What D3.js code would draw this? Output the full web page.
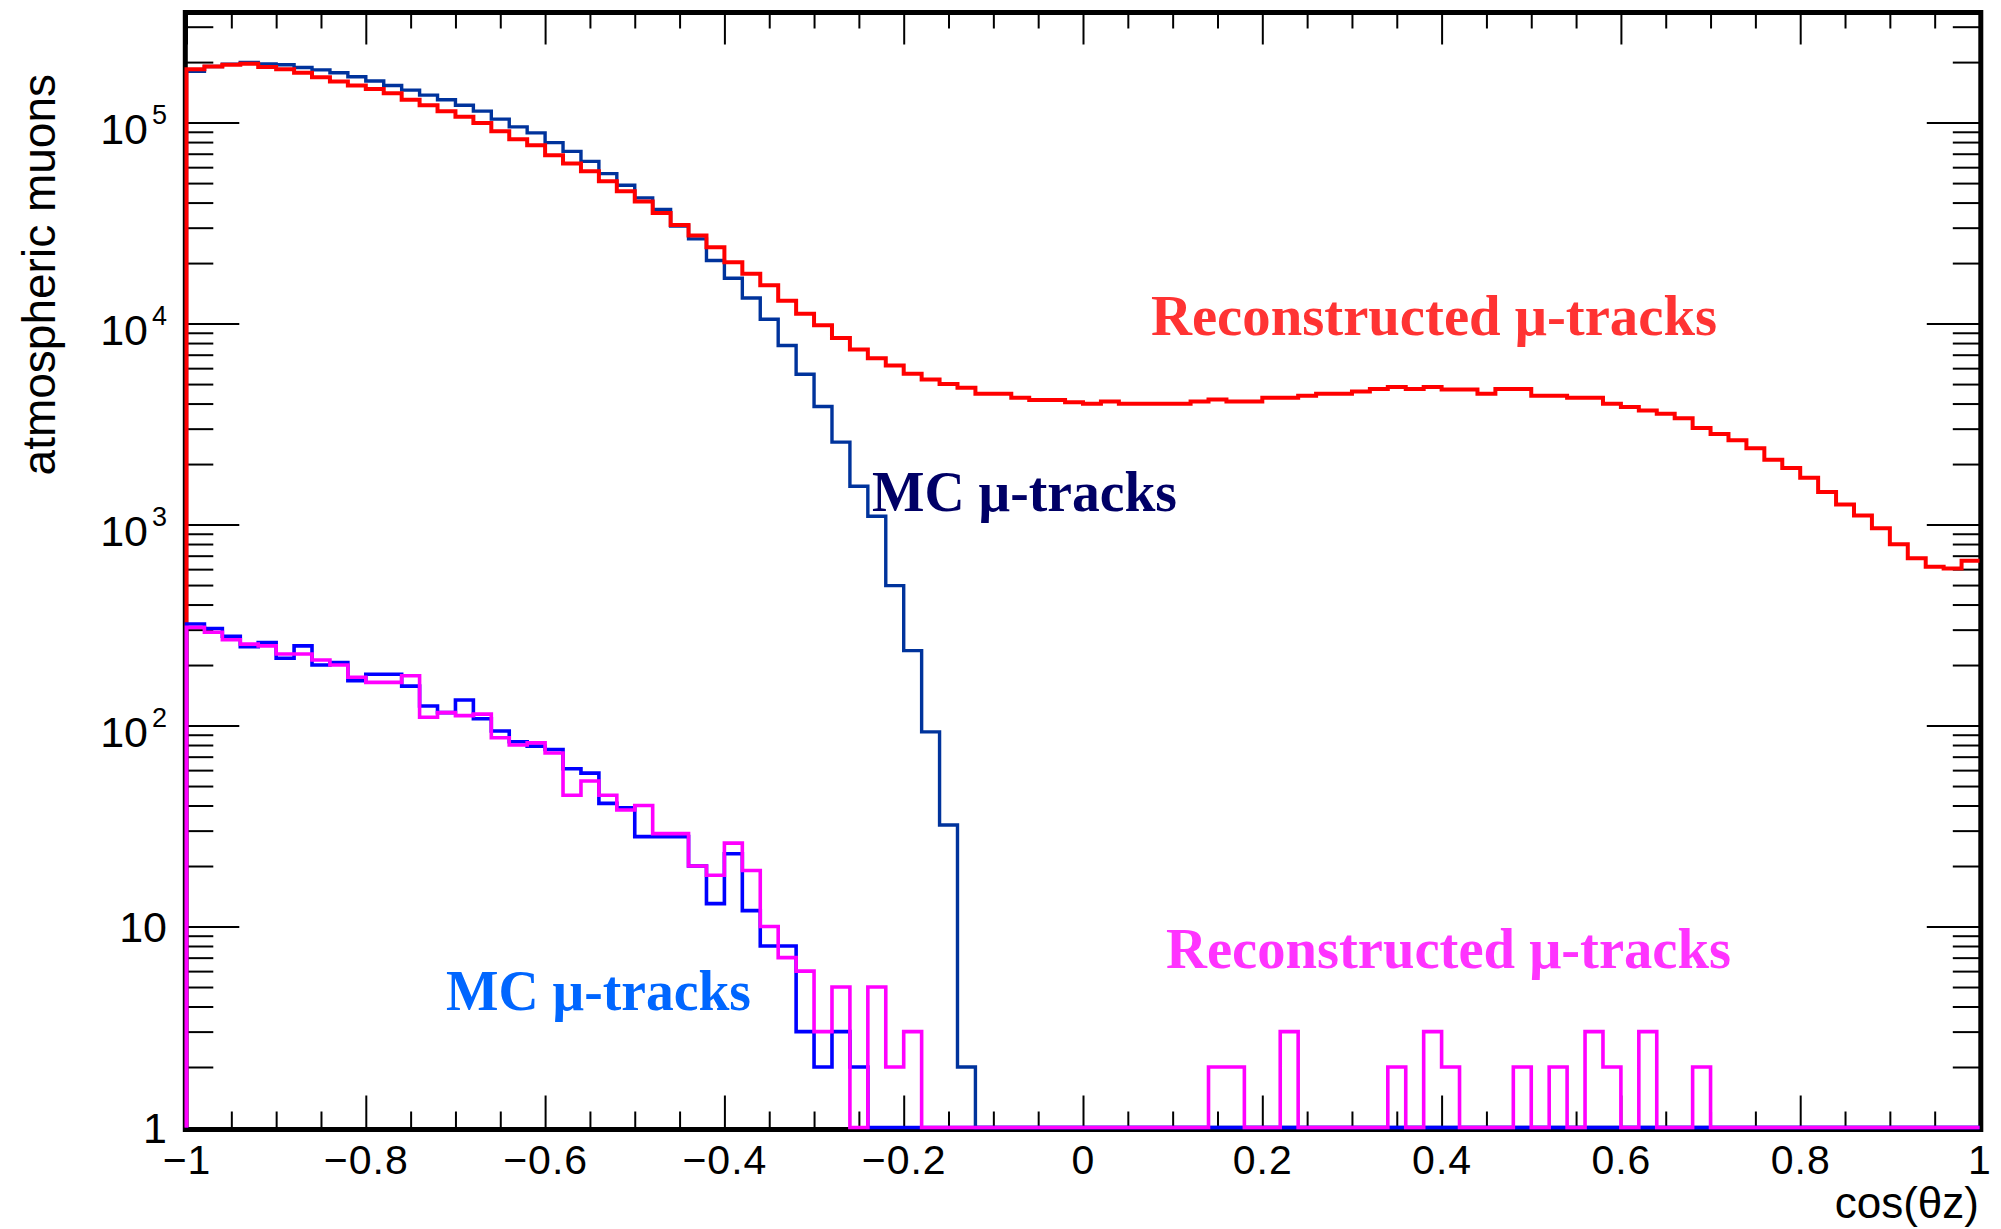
<!DOCTYPE html>
<html>
<head>
<meta charset="utf-8">
<script src="https://cdn.jsdelivr.net/npm/d3@7"></script>
<style>
  html, body { margin: 0; padding: 0; background: #ffffff; }
  svg { display: block; }
</style>
</head>
<body>
<svg id="chart" width="2001" height="1229"></svg>
<script>
// Histogram binning: 100 equal bins in cos(theta_z) from -1 to 1
const binLow = -1;
const binWidth = 0.02;

// Reconstructed muon tracks (high statistics sample)
const recoHigh = [
  1.84e5, 1.90e5, 1.94e5, 1.96e5, 1.89e5, 1.84e5, 1.77e5, 1.68e5, 1.60e5, 1.53e5,
  1.47e5, 1.40e5, 1.30e5, 1.22e5, 1.14e5, 1.07e5, 9.96e4, 9.05e4, 8.26e4, 7.71e4,
  6.87e4, 6.25e4, 5.72e4, 5.10e4, 4.55e4, 4.05e4, 3.55e4, 3.09e4, 2.74e4, 2.40e4,
  2.02e4, 1.77e4, 1.55e4, 1.30e4, 1.12e4, 9800, 8470, 7440, 6730, 6180,
  5620, 5270, 5010, 4790, 4470, 4470, 4270, 4170, 4170, 4060,
  3990, 4090, 3990, 3990, 3990, 3990, 4090, 4190, 4090, 4090,
  4270, 4270, 4380, 4470, 4470, 4590, 4730, 4830, 4730, 4830,
  4700, 4700, 4470, 4730, 4730, 4380, 4380, 4270, 4270, 3990,
  3840, 3690, 3560, 3380, 3020, 2820, 2630, 2400, 2100, 1910,
  1710, 1450, 1260, 1110, 958, 797, 679, 617, 605, 661
];

// Monte Carlo muon tracks (high statistics sample)
const mcHigh = [
  1.80e5, 1.90e5, 1.95e5, 1.99e5, 1.96e5, 1.94e5, 1.88e5, 1.83e5, 1.77e5, 1.69e5,
  1.61e5, 1.53e5, 1.45e5, 1.37e5, 1.30e5, 1.22e5, 1.14e5, 1.04e5, 9.52e4, 8.89e4,
  7.95e4, 7.19e4, 6.41e4, 5.57e4, 4.88e4, 4.22e4, 3.70e4, 3.06e4, 2.64e4, 2.06e4,
  1.68e4, 1.34e4, 1.05e4, 7780, 5600, 3870, 2570, 1550, 1100, 497,
  236, 93, 32, 2, 0, 0, 0, 0, 0, 0,
  0, 0, 0, 0, 0, 0, 0, 0, 0, 0,
  0, 0, 0, 0, 0, 0, 0, 0, 0, 0,
  0, 0, 0, 0, 0, 0, 0, 0, 0, 0,
  0, 0, 0, 0, 0, 0, 0, 0, 0, 0,
  0, 0, 0, 0, 0, 0, 0, 0, 0, 0
];

// Monte Carlo muon tracks (low statistics sample)
const mcLow = [
  320, 304, 278, 247, 259, 216, 249, 200, 206, 167,
  180, 180, 157, 125, 116, 134, 108, 94, 83, 79,
  76, 61, 58, 41, 39, 28, 28, 28, 20, 13,
  23, 12, 8, 8, 3, 2, 3, 2, 0, 0,
  0, 0, 0, 0, 0, 0, 0, 0, 0, 0,
  0, 0, 0, 0, 0, 0, 0, 0, 0, 0,
  0, 0, 0, 0, 0, 0, 0, 0, 0, 0,
  0, 0, 0, 0, 0, 0, 0, 0, 0, 0,
  0, 0, 0, 0, 0, 0, 0, 0, 0, 0,
  0, 0, 0, 0, 0, 0, 0, 0, 0, 0
];

// Reconstructed muon tracks (low statistics sample)
const recoLow = [
  308, 291, 267, 254, 249, 227, 227, 212, 200, 174,
  164, 164, 177, 110, 116, 112, 114, 87, 80, 82,
  73, 45, 53, 45, 38, 40, 29, 29, 20, 18,
  26, 19, 10, 7, 6, 3, 5, 0, 5, 2,
  3, 0, 0, 0, 0, 0, 0, 0, 0, 0,
  0, 0, 0, 0, 0, 0, 0, 2, 2, 0,
  0, 3, 0, 0, 0, 0, 0, 2, 0, 3,
  2, 0, 0, 0, 2, 0, 2, 0, 3, 2,
  0, 3, 0, 0, 2, 0, 0, 0, 0, 0,
  0, 0, 0, 0, 0, 0, 0, 0, 0, 0
];

// Axis tick values and labels
const xTickValues = [-1, -0.8, -0.6, -0.4, -0.2, 0, 0.2, 0.4, 0.6, 0.8, 1];
const xTickLabels = ["\u22121", "\u22120.8", "\u22120.6", "\u22120.4", "\u22120.2", "0", "0.2", "0.4", "0.6", "0.8", "1"];
const yTickValues = [1, 10, 100, 1000, 10000, 100000];
const yTickBase = ["1", "10", "10", "10", "10", "10"];
const yTickExp = ["", "", "2", "3", "4", "5"];
const yMax = 3.53e5;

const xTitle = "cos(\u03B8z)";
const yTitle = "atmospheric muons";

const svg = d3.select("#chart");
const plot = { left: 186.5, right: 1979.5, top: 12.5, bottom: 1127.5 };
const axisFont = "'Liberation Sans', Arial, Helvetica, sans-serif";
const noteFont = "'Liberation Serif', 'Times New Roman', serif";

const x = d3.scaleLinear().domain([-1, 1]).range([plot.left, plot.right]);
const y = d3.scaleLog().domain([1, yMax]).range([plot.bottom, plot.top]);

svg.append("rect").attr("width", 2001).attr("height", 1229).attr("fill", "#ffffff");

// Frame
const frame = { x0: 185.3, x1: 1980.8, y0: 12.5, y1: 1129.5 };
svg.append("rect")
  .attr("x", frame.x0).attr("y", frame.y0)
  .attr("width", frame.x1 - frame.x0).attr("height", frame.y1 - frame.y0)
  .attr("fill", "none").attr("stroke", "#000").attr("stroke-width", 5);

// X ticks (bottom and top, pointing inward)
const xMinor = d3.range(0, 41).map(i => -1 + i * 0.05)
  .filter(v => Math.abs(Math.round(v / 0.2) * 0.2 - v) > 1e-6);

function styleAxis(g) {
  g.select(".domain").remove();
  g.selectAll(".tick line").attr("stroke", "#000").attr("stroke-width", 2);
}

svg.append("g").attr("transform", `translate(0,${frame.y1})`)
  .call(d3.axisBottom(x).tickValues(xTickValues).tickSizeInner(-34).tickSizeOuter(0)
    .tickPadding(15).tickFormat((d, i) => xTickLabels[i]))
  .call(styleAxis)
  .call(g => g.selectAll(".tick text")
    .attr("font-family", axisFont).attr("font-size", 41).attr("fill", "#000")
    .attr("letter-spacing", 1));

svg.append("g").attr("transform", `translate(0,${frame.y1})`)
  .call(d3.axisBottom(x).tickValues(xMinor).tickSizeInner(-18).tickSizeOuter(0).tickFormat(""))
  .call(styleAxis);

svg.append("g").attr("transform", `translate(0,${frame.y0})`)
  .call(d3.axisTop(x).tickValues(xTickValues).tickSizeInner(-32).tickSizeOuter(0).tickFormat(""))
  .call(styleAxis);

svg.append("g").attr("transform", `translate(0,${frame.y0})`)
  .call(d3.axisTop(x).tickValues(xMinor).tickSizeInner(-16).tickSizeOuter(0).tickFormat(""))
  .call(styleAxis);

// Y ticks (left and right, pointing inward)
const yMinor = [];
for (let k = 0; k <= 5; k++) {
  for (let m = 2; m <= 9; m++) {
    const v = m * Math.pow(10, k);
    if (v <= yMax) yMinor.push(v);
  }
}

svg.append("g").attr("transform", `translate(${frame.x0},0)`)
  .call(d3.axisLeft(y).tickValues(yTickValues).tickSizeInner(-54).tickSizeOuter(0).tickFormat(""))
  .call(styleAxis);
svg.append("g").attr("transform", `translate(${frame.x0},0)`)
  .call(d3.axisLeft(y).tickValues(yMinor).tickSizeInner(-28).tickSizeOuter(0).tickFormat(""))
  .call(styleAxis);
svg.append("g").attr("transform", `translate(${frame.x1},0)`)
  .call(d3.axisRight(y).tickValues(yTickValues).tickSizeInner(-54).tickSizeOuter(0).tickFormat(""))
  .call(styleAxis);
svg.append("g").attr("transform", `translate(${frame.x1},0)`)
  .call(d3.axisRight(y).tickValues(yMinor).tickSizeInner(-28).tickSizeOuter(0).tickFormat(""))
  .call(styleAxis);

// Y tick labels with powers of ten
const yLab = svg.append("g").attr("font-family", axisFont).attr("fill", "#000");
yTickValues.forEach((v, i) => {
  const ty = y(v);
  if (yTickExp[i] === "") {
    yLab.append("text").attr("x", 167).attr("y", ty + 15.5)
      .attr("text-anchor", "end").attr("font-size", 43).text(yTickBase[i]);
  } else {
    yLab.append("text").attr("x", 148).attr("y", ty + 21)
      .attr("text-anchor", "end").attr("font-size", 43).text(yTickBase[i]);
    yLab.append("text").attr("x", 167).attr("y", ty + 1)
      .attr("text-anchor", "end").attr("font-size", 27).text(yTickExp[i]);
  }
});

// Axis titles
svg.append("text")
  .attr("transform", "translate(55,74) rotate(-90)")
  .attr("text-anchor", "end")
  .attr("font-family", axisFont).attr("font-size", 46).attr("fill", "#000")
  .text(yTitle);

svg.append("text")
  .attr("x", 1979).attr("y", 1218)
  .attr("text-anchor", "end")
  .attr("font-family", axisFont).attr("font-size", 44).attr("fill", "#000")
  .text(xTitle);

// Histograms drawn as step outlines
function stepPoints(vals) {
  const pts = [[binLow, 1]];
  vals.forEach((v, i) => {
    const a = binLow + i * binWidth;
    const c = Math.max(v, 1);
    pts.push([a, c], [a + binWidth, c]);
  });
  return pts;
}
const stepLine = d3.line().x(d => x(d[0])).y(d => y(d[1]));

const series = [
  { vals: mcHigh, color: "#00339c", width: 3.4 },
  { vals: recoHigh, color: "#ff0000", width: 4 },
  { vals: mcLow, color: "#0000ff", width: 3.6 },
  { vals: recoLow, color: "#ff00ff", width: 3.6 }
];
series.forEach(s => {
  svg.append("path")
    .attr("d", stepLine(stepPoints(s.vals)))
    .attr("fill", "none")
    .attr("stroke", s.color)
    .attr("stroke-width", s.width)
    .attr("stroke-linejoin", "miter");
});

// Curve annotations
const notes = [
  { text: "Reconstructed \u03BC-tracks", color: "#ff3333", px: 1151, py: 335, len: 566 },
  { text: "MC \u03BC-tracks", color: "#000066", px: 872, py: 511, len: 305 },
  { text: "MC \u03BC-tracks", color: "#0066ff", px: 446, py: 1010, len: 305 },
  { text: "Reconstructed \u03BC-tracks", color: "#ff33ff", px: 1166, py: 968, len: 565 }
];
notes.forEach(n => {
  svg.append("text")
    .attr("x", n.px).attr("y", n.py)
    .attr("font-family", noteFont).attr("font-weight", "bold").attr("font-size", 57)
    .attr("fill", n.color)
    .attr("textLength", n.len).attr("lengthAdjust", "spacingAndGlyphs")
    .text(n.text);
});
</script>
</body>
</html>
